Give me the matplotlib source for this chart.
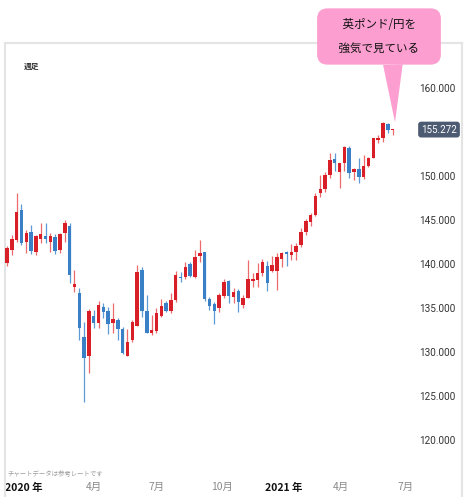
import matplotlib
matplotlib.use("Agg")
import matplotlib.pyplot as plt
import matplotlib.transforms as mtransforms

plt.rcParams['font.family'] = ['Noto Sans CJK JP', 'DejaVu Sans']

# weekly GBP/JPY candles (Dec 2019 - Jun 2021)
opens = [140.08, 141.59, 142.73, 146.14, 142.53, 143.67, 141.40, 142.87, 143.22, 142.53,
         143.07, 141.59, 143.49, 144.35, 137.42, 136.70, 131.74, 129.58, 134.09, 133.26,
         135.15, 134.69, 133.26, 133.64, 132.58, 129.58, 131.36, 132.95, 139.32, 134.69,
         132.12, 132.39, 134.09, 135.53, 134.66, 135.91, 138.56, 138.56, 139.97, 138.56,
         140.94, 141.40, 136.02, 135.45, 135.03, 136.40, 138.07, 136.22, 136.97, 135.34,
         136.17, 138.10, 138.18, 138.94, 139.77, 139.24, 139.20, 140.62, 141.33, 141.02,
         141.33, 142.16, 143.67, 144.81, 145.57, 148.03, 148.52, 150.11, 151.93, 150.49,
         151.51, 153.22, 150.49, 150.76, 149.92, 151.14, 152.08, 154.09, 154.28, 155.87,
         155.18]
highs = [142.05, 143.30, 148.07, 146.82, 143.86, 144.43, 143.30, 144.66, 144.66, 143.52,
         143.41, 143.52, 145.00, 144.69, 139.32, 137.27, 133.44, 134.89, 134.77, 135.83,
         135.57, 135.15, 135.57, 133.86, 132.87, 132.58, 133.64, 139.89, 139.69, 136.48,
         134.20, 135.00, 136.02, 135.83, 136.67, 139.24, 139.12, 140.19, 140.23, 141.59,
         142.73, 141.40, 136.28, 135.72, 136.74, 138.26, 138.18, 137.24, 137.13, 136.48,
         140.45, 138.98, 140.08, 140.53, 140.34, 140.90, 141.25, 141.40, 141.48, 142.27,
         142.39, 144.06, 145.08, 145.83, 148.03, 150.11, 150.49, 152.58, 152.58, 151.50,
         153.35, 153.41, 150.87, 152.01, 152.39, 152.16, 154.30, 154.66, 156.17, 155.99,
         155.35]
lows = [139.77, 141.02, 142.50, 142.16, 141.28, 141.14, 141.02, 142.39, 142.39, 141.40,
        141.14, 141.28, 142.53, 137.84, 136.85, 131.36, 124.35, 127.61, 132.73, 132.73,
        133.86, 132.05, 132.16, 131.36, 129.74, 129.58, 131.17, 132.95, 134.01, 132.12,
        131.93, 132.20, 133.94, 134.55, 134.47, 135.72, 137.92, 138.26, 138.52, 138.38,
        140.26, 135.80, 134.77, 133.18, 134.58, 136.10, 135.53, 135.53, 134.58, 134.97,
        136.10, 137.35, 137.42, 138.64, 136.93, 139.10, 137.05, 139.69, 139.77, 140.45,
        140.45, 141.97, 143.30, 144.32, 145.45, 147.58, 148.22, 149.74, 150.60, 148.60,
        150.60, 149.74, 149.55, 149.17, 149.62, 151.02, 152.00, 153.72, 153.83, 154.92,
        154.66]
closes = [141.78, 142.81, 145.94, 142.42, 143.52, 141.51, 143.18, 143.41, 142.87, 143.22,
          141.51, 143.41, 144.69, 138.75, 137.69, 132.76, 129.35, 134.66, 133.26, 135.34,
          134.58, 133.15, 133.72, 132.58, 129.85, 131.17, 133.37, 139.06, 134.66, 132.12,
          132.45, 134.47, 135.23, 134.66, 135.91, 138.75, 138.37, 139.62, 138.67, 140.76,
          141.28, 135.99, 135.26, 134.66, 136.48, 137.99, 136.36, 136.85, 135.72, 136.10,
          138.26, 138.26, 138.92, 140.17, 137.81, 139.92, 140.76, 141.28, 141.17, 141.33,
          142.08, 143.67, 144.89, 145.51, 147.73, 148.49, 150.11, 151.82, 151.51, 151.44,
          153.33, 150.37, 150.76, 149.92, 151.14, 152.01, 154.28, 154.28, 155.99, 155.23,
          155.272]

y_ticks = [120, 125, 130, 135, 140, 145, 150, 160]
x_tick_pos = [3.5, 18.0, 31.1, 44.6, 57.5, 69.3, 82.6]
x_tick_labels = ['2020 年', '4月', '7月', '10月', '2021 年', '4月', '7月']

up_color = '#d81e27'
down_color = '#3a80c6'
up_wick = '#ec6a6e'
down_wick = '#5e9ad6'

W, H = 468, 497
fig = plt.figure(figsize=(W / 100, H / 100), dpi=100)
ax = fig.add_axes([5 / W, 0, 457 / W, 454 / H])

n = len(closes)
xs = list(range(n))
body_colors = [up_color if c >= o else down_color for o, c in zip(opens, closes)]
wick_colors = [up_wick if c >= o else down_wick for o, c in zip(opens, closes)]
bottoms = [min(o, c) for o, c in zip(opens, closes)]
heights = [max(abs(c - o), 0.12) for o, c in zip(opens, closes)]

ax.vlines(xs, lows, highs, colors=wick_colors, linewidth=0.9, zorder=2)
ax.bar(xs, heights, bottom=bottoms, width=0.72, color=body_colors, linewidth=0, zorder=3)

ax.set_xlim(-0.415, 94.4)
ax.set_ylim(113.52, 165.11)

for side in ['left', 'top', 'right']:
    ax.spines[side].set_color('#e4e4e4')
    ax.spines[side].set_linewidth(1.5)
ax.spines['bottom'].set_visible(False)

# price axis, labels drawn inside on the right
ax.yaxis.tick_right()
ax.set_yticks(y_ticks)
ax.set_yticklabels([f'{v:.3f}' for v in y_ticks])
ax.tick_params(axis='y', length=0, pad=-4.3, labelsize=7.2, labelcolor='#333333')
for lab in ax.get_yticklabels():
    lab.set_horizontalalignment('right')
    lab.set_family(['Roboto', 'DejaVu Sans'])

# time axis, labels inside at the bottom
ax.set_xticks(x_tick_pos)
ax.set_xticklabels(x_tick_labels)
ax.tick_params(axis='x', length=0, pad=-10.5, labelsize=7.5)
for lab in ax.get_xticklabels():
    if '年' in lab.get_text():
        lab.set_fontweight('bold')
        lab.set_color('#111111')
    else:
        lab.set_color('#8a8a8a')

ax.text(0.058, 0.948, '週足', transform=ax.transAxes, fontsize=5.6,
        fontweight='bold', color='#333333', ha='center', va='center')
ax.text(0.006, 0.051, 'チャートデータは参考レートです', transform=ax.transAxes,
        fontsize=4.6, color='#9a9a9a', ha='left', va='center')

# last price badge
trans = mtransforms.blended_transform_factory(ax.transAxes, ax.transData)
ax.text(0.9497, closes[-1], f'{closes[-1]:.3f}', transform=trans, fontsize=7.0,
        color='white', ha='center', va='center', family=['Roboto', 'DejaVu Sans'],
        bbox=dict(boxstyle='round,pad=0.3,rounding_size=0.3', fc='#4c5a72', ec='none'),
        zorder=5)

# speech bubble
pink = '#fc9fd0'
ax.annotate('\u3000英ポンド/円を\u3000\n\u3000強気で見ている\u3000', xy=(n - 0.5, 156.1),
            xytext=(379, 497 - 36.5), textcoords='figure pixels',
            fontsize=8.3, ha='center', va='center', linespacing=2.0,
            color='#111111', annotation_clip=False,
            bbox=dict(boxstyle='round,pad=0.88,rounding_size=0.9', fc=pink, ec='none'),
            arrowprops=dict(arrowstyle='wedge,tail_width=1.7,shrink_factor=0.5',
                            fc=pink, ec='none', relpos=(0.63, 0.05),
                            shrinkA=0, shrinkB=0),
            zorder=6)

fig.savefig('out.png', dpi=100)
